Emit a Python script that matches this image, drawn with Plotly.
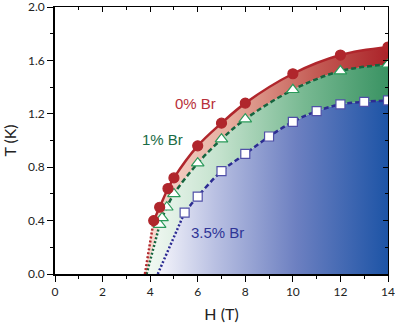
import plotly.graph_objects as go

# field values (T) and critical temperatures (K)
h_0 = [4.15, 4.4, 4.75, 5.0, 6, 7, 8, 10, 12, 14]
t_0 = [0.40, 0.50, 0.64, 0.72, 0.96, 1.13, 1.28, 1.50, 1.64, 1.70]
h_1 = [4.4, 4.5, 4.7, 5.0, 6, 7, 8, 10, 12, 14]
t_1 = [0.37, 0.42, 0.50, 0.60, 0.83, 1.01, 1.16, 1.38, 1.52, 1.57]
h_35 = [5.45, 6, 7, 8, 9, 10, 11, 12, 13, 14]
t_35 = [0.46, 0.58, 0.77, 0.90, 1.03, 1.14, 1.22, 1.27, 1.29, 1.30]
# where each fit line meets T = 0
hc_0, hc_1, hc_35 = 3.78, 3.85, 4.32

x_ticks = [0, 2, 4, 6, 8, 10, 12, 14]
y_ticks = [0.0, 0.4, 0.8, 1.2, 1.6, 2.0]

RED = '#b0262c'
GREEN = '#15653f'
BLUE = '#2c2c92'

fig = go.Figure()

def fill(h, t, hc, mode, scale):
    fig.add_trace(go.Scatter(
        x=[hc] + h, y=[0] + t, mode='lines', fill=mode,
        line=dict(width=0, shape='spline'),
        fillgradient=dict(type='horizontal', colorscale=scale),
        hoverinfo='skip', showlegend=False))

fill(h_35, t_35, hc_35, 'tozeroy',
     [[0, '#f5f5fb'], [0.25, '#b9c0e2'], [0.6, '#6d80c1'], [1, '#1d54a6']])
fill(h_1, t_1, hc_1, 'tonexty',
     [[0, '#f3f9f4'], [0.3, '#c4e2cd'], [0.65, '#78b992'], [1, '#3a9363']])
fill(h_0, t_0, hc_0, 'tonexty',
     [[0, '#f8dcd3'], [0.35, '#e6ad9e'], [0.7, '#c45c55'], [1, '#ab2329']])

def curve(h, t, hc, color, dash, symbol, mfill, mline, size):
    fig.add_trace(go.Scatter(
        x=[hc, h[0]], y=[0, t[0]], mode='lines',
        line=dict(color=color, width=2.5, dash='2px,2px'),
        hoverinfo='skip', showlegend=False))
    fig.add_trace(go.Scatter(
        x=h, y=t, mode='lines',
        line=dict(color=color, width=2.5, dash=dash, shape='spline'),
        showlegend=False))
    fig.add_trace(go.Scatter(
        x=h, y=t, mode='markers',
        marker=dict(symbol=symbol, size=size, color=mfill,
                    line=dict(color=mline, width=1.2)),
        showlegend=False))

curve(h_35, t_35, hc_35, BLUE, '5px,3px', 'square', 'white', '#5050a8', 9)
curve(h_1, t_1, hc_1, GREEN, '5px,3px', 'triangle-up', 'white', '#2a9a5a', 11)
curve(h_0, t_0, hc_0, RED, 'solid', 'circle', RED, RED, 10)

labels = [('0% Br', 5.92, 1.28, '#b8303a'),
          ('1% Br', 4.5, 1.01, '#1a6b45'),
          ('3.5% Br', 6.85, 0.31, '#2f3596')]
for txt, x, y, c in labels:
    fig.add_annotation(x=x, y=y, text=txt, showarrow=False,
                       font=dict(family='Liberation Sans', size=15, color=c))

tickfont = dict(family='Lato', size=12, color='#222')
frame = dict(showline=True, linecolor='black', showgrid=False,
             zeroline=False, automargin=False)
fig.update_layout(
    width=395, height=330,
    margin=dict(l=55, r=7, t=7, b=56),
    paper_bgcolor='white', plot_bgcolor='white',
    font=dict(family='Lato', color='#222'),
    xaxis=dict(range=[0, 14], tickvals=x_ticks, ticks='outside', ticklen=6,
               tickwidth=1.3, tickcolor='black', tickfont=tickfont,
               ticklabeloverflow='allow', linewidth=1.5, **frame,
               minor=dict(dtick=1, ticks='outside', ticklen=3, tickcolor='black'),
               title=dict(text='H (T)', font=dict(size=16), standoff=11)),
    yaxis=dict(range=[0, 2], tickvals=y_ticks,
               ticktext=[f'{v:.1f}' for v in y_ticks], ticks='outside',
               ticklen=6, tickwidth=1.3, tickcolor='black', tickfont=tickfont,
               ticklabeloverflow='allow', linewidth=1.5, **frame,
               minor=dict(dtick=0.2, ticks='outside', ticklen=3, tickcolor='black'),
               title=dict(text='T (K)', font=dict(size=16), standoff=11)),
    xaxis2=dict(overlaying='x', side='top', matches='x', range=[0, 14],
                tickvals=x_ticks, ticks='inside', ticklen=5, tickcolor='black',
                showticklabels=False, linewidth=1.3, **frame,
                minor=dict(dtick=1, ticks='inside', ticklen=3, tickcolor='black')),
    yaxis2=dict(overlaying='y', side='right', matches='y', range=[0, 2],
                tickvals=y_ticks, ticks='inside', ticklen=5, tickcolor='black',
                showticklabels=False, linewidth=1.3, **frame,
                minor=dict(dtick=0.2, ticks='inside', ticklen=3, tickcolor='black')),
)
# dummy trace so the mirrored axes are drawn
fig.add_trace(go.Scatter(x=[None], y=[None], xaxis='x2', yaxis='y2',
                         showlegend=False, hoverinfo='skip'))

# drop the page's default body margin so the figure sits at the window corner
fig.write_html("out.html", config={'displayModeBar': False},
               post_script="document.body.style.margin = '0';")
